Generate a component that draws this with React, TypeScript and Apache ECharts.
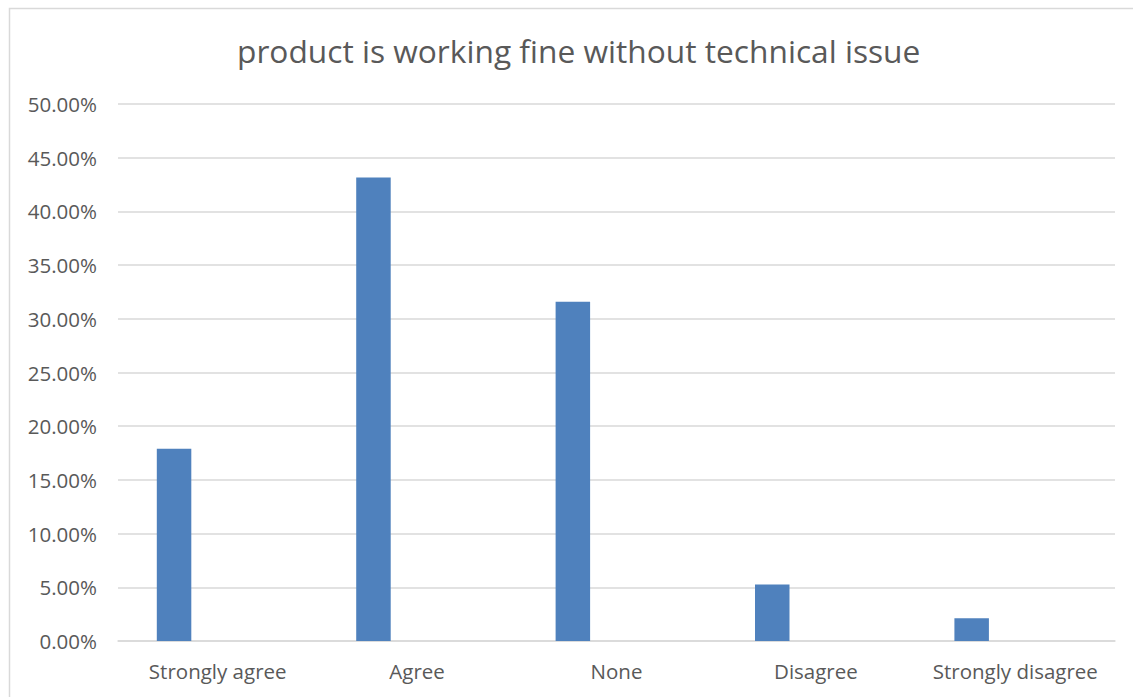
import React, { useEffect, useRef } from "react";
import * as echarts from "echarts";

const categories = ["Strongly agree", "Agree", "None", "Disagree", "Strongly disagree"];
const responseShare = [0.1789, 0.4316, 0.3158, 0.0526, 0.0211];
const emptySeries = ["-", "-", "-", "-", "-"];
const titleText = "product is working fine without technical issue";

const TEXT = "#595959";
const GRID = "#d9d9d9";
const FONT = "'Open Sans', 'Noto Sans', sans-serif";

export default function App() {
  const ref = useRef<HTMLDivElement>(null);

  useEffect(() => {
    document.body.style.margin = "0";
    const chart = echarts.init(ref.current!, null, { renderer: "svg" });
    chart.setOption({
      animation: false,
      backgroundColor: "#ffffff",
      textStyle: { fontFamily: FONT },
      title: {
        text: titleText,
        left: 232,
        top: 29,
        textStyle: { color: TEXT, fontSize: 31.7, fontWeight: "normal", fontFamily: FONT },
      },
      graphic: [
        {
          type: "rect",
          shape: { x: 9.5, y: 8.5, width: 1200, height: 800 },
          style: { fill: "none", stroke: GRID, lineWidth: 1.5 },
          silent: true,
        },
      ],
      grid: { left: 118, right: 18, top: 104, bottom: 56 },
      xAxis: {
        type: "category",
        data: categories,
        axisLine: { show: true, lineStyle: { color: GRID, width: 1.5 } },
        axisTick: { show: false },
        axisLabel: { color: TEXT, fontSize: 20.5, margin: 19, fontFamily: FONT, interval: 0 },
      },
      yAxis: {
        type: "value",
        min: 0,
        max: 0.5,
        interval: 0.05,
        axisLine: { show: false },
        axisTick: { show: false },
        splitLine: { lineStyle: { color: GRID, width: 1.5 } },
        axisLabel: {
          color: TEXT,
          fontSize: 20.5,
          margin: 21,
          fontFamily: FONT,
          formatter: (v: number) => (v * 100).toFixed(2) + "%",
        },
      },
      series: [
        {
          type: "bar",
          data: responseShare,
          barWidth: 34.5,
          barGap: "153%",
          itemStyle: { color: "#4f81bd" },
        },
        {
          type: "bar",
          data: emptySeries,
          barWidth: 34.5,
          itemStyle: { color: "#c0504d" },
        },
      ],
    });
    return () => chart.dispose();
  }, []);

  return <div ref={ref} style={{ width: 1133, height: 697 }} />;
}
